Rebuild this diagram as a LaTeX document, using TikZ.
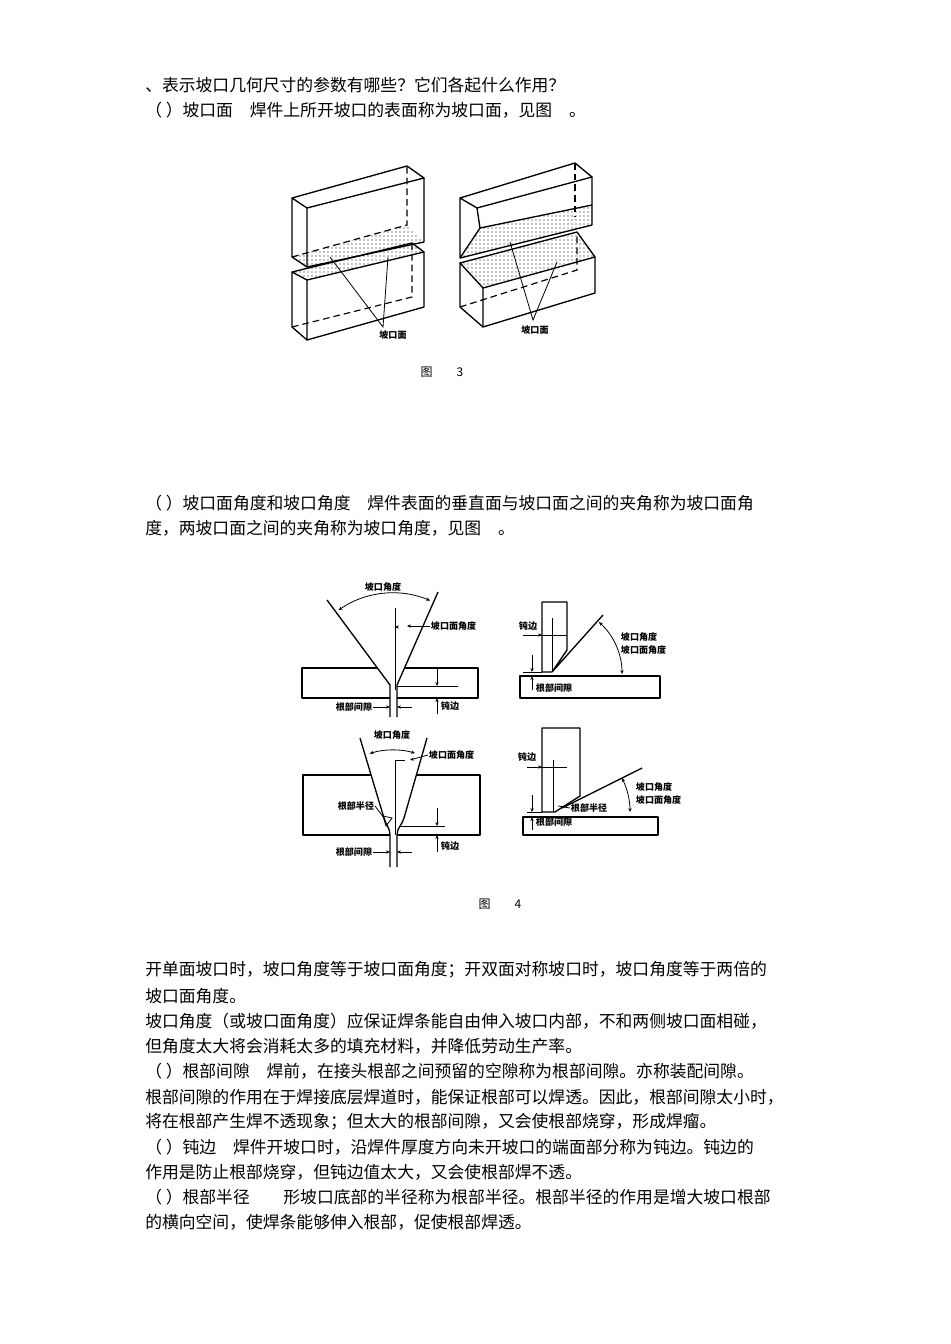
\documentclass[tikz,border=0pt]{standalone}
\usepackage{fontspec}
\setmainfont{Noto Sans CJK SC}
\newfontfamily\cjk{Noto Sans CJK SC}
\usetikzlibrary{patterns,arrows.meta}
\begin{document}
\begin{tikzpicture}[x=0.75pt,y=-0.75pt,
  body/.style={anchor=west,inner sep=0pt,font=\fontsize{12.6pt}{14pt}\selectfont},
  lbl/.style={inner sep=0.5pt,font=\fontsize{6.8pt}{7.5pt}\selectfont\bfseries},
  figcap/.style={inner sep=0pt,font=\fontsize{9pt}{10pt}\selectfont},
  ln/.style={line width=1pt,line join=round},
  thin/.style={line width=0.6pt},
  hid/.style={line width=0.9pt,dash pattern=on 5pt off 3pt},
  dots/.style={pattern=dots,pattern color=black},
  arr/.style={-{Stealth[length=3pt,width=2.5pt]},line width=0.6pt},
  darr/.style={{Stealth[length=3pt,width=2.5pt]}-{Stealth[length=3pt,width=2.5pt]},line width=0.6pt}]
\fill[white] (0,0) rectangle (950,1344);
\useasboundingbox (0,0) rectangle (950,1344);
% text
\node[body] (t1) at (145,85) {、表示坡口几何尺寸的参数有哪些？它们各起什么作用？};
\node[body] (t2) at (145,110) {（\ ）坡口面\quad 焊件上所开坡口的表面称为坡口面，见图\quad 。};
\node[body] (t3) at (145,503) {（\ ）坡口面角度和坡口角度\quad 焊件表面的垂直面与坡口面之间的夹角称为坡口面角};
\node[body] (t4) at (145,528) {度，两坡口面之间的夹角称为坡口角度，见图\quad 。};
\node[body] (t5) at (145,970) {开单面坡口时，坡口角度等于坡口面角度；开双面对称坡口时，坡口角度等于两倍的};
\node[body] (t6) at (145,996) {坡口面角度。};
\node[body] (t7) at (145,1021) {坡口角度（或坡口面角度）应保证焊条能自由伸入坡口内部，不和两侧坡口面相碰，};
\node[body] (t8) at (145,1046) {但角度太大将会消耗太多的填充材料，并降低劳动生产率。};
\node[body] (t9) at (145,1071) {（\ ）根部间隙\quad 焊前，在接头根部之间预留的空隙称为根部间隙。亦称装配间隙。};
\node[body] (t10) at (145,1097) {根部间隙的作用在于焊接底层焊道时，能保证根部可以焊透。因此，根部间隙太小时，};
\node[body] (t11) at (145,1122) {将在根部产生焊不透现象；但太大的根部间隙，又会使根部烧穿，形成焊瘤。};
\node[body] (t12) at (145,1147) {（\ ）钝边\quad 焊件开坡口时，沿焊件厚度方向未开坡口的端面部分称为钝边。钝边的};
\node[body] (t13) at (145,1172) {作用是防止根部烧穿，但钝边值太大，又会使根部焊不透。};
\node[body] (t14) at (145,1197) {（\ ）根部半径\qquad 形坡口底部的半径称为根部半径。根部半径的作用是增大坡口根部};
\node[body] (t15) at (145,1222) {的横向空间，使焊条能够伸入根部，促使根部焊透。};
% ===== Figure 3 left =====
\fill[dots] (292,257)--(307,267)--(424,242)--(407,225)--cycle;
\fill[dots] (292,272)--(307,280)--(424,252)--(412,243)--cycle;
\draw[ln] (292,198)--(307,208)--(424,178)--(407,166)--cycle;
\draw[ln] (307,208)--(307,267)--(424,242)--(424,178);
\draw[ln] (292,198)--(292,257)--(307,267);
\draw[hid] (292,257)--(407,225)--(407,166);
\draw[ln] (292,272)--(307,280)--(424,252)--(412,243)--cycle;
\draw[ln] (307,280)--(307,340)--(424,307)--(424,252);
\draw[ln] (292,272)--(292,327)--(307,340);
\draw[hid] (292,327)--(412,297)--(412,243);
\node[lbl] (l3a) at (393,335) {坡口面};
\coordinate (p3a) at (383,327);
\draw[thin] (330,257)--(p3a)--(388,257);
% ===== Figure 3 right =====
\fill[dots] (480,228)--(460,258)--(592,225)--(592,205)--cycle;
\fill[dots] (460,263)--(483,288)--(595,257)--(577,232)--cycle;
\draw[ln] (460,198)--(477,208)--(592,177)--(575,163)--cycle;
\draw[ln] (477,208)--(480,228)--(460,258)--(460,198);
\draw[ln] (480,228)--(592,205)--(592,177);
\draw[ln] (460,258)--(592,225)--(592,205);
\draw[hid] (575,163)--(575,217);
\draw[ln] (460,263)--(483,288)--(595,257)--(577,232)--cycle;
\draw[ln] (483,288)--(483,327)--(595,293)--(595,257);
\draw[ln] (460,263)--(460,307)--(483,327);
\draw[hid] (460,307)--(577,270)--(577,232);
\node[lbl] (l3b) at (535,330) {坡口面};
\coordinate (p3b) at (533,320);
\draw[thin] (510,242)--(p3b)--(557,262);
\node[figcap] (c3) at (442,372) {图\qquad 3};
% ===== Figure 4 top-left =====
\draw[ln] (377,668)--(302,668)--(302,698)--(390,698);
\draw[ln] (404,668)--(478,668)--(478,698)--(397,698);
\draw[ln] (327,600)--(390,685)--(390,717);
\draw[ln] (438,592)--(397,685)--(397,717);
\draw[thin] (395,608)--(395,690);
\coordinate (o1) at (393,688);
\draw[darr] (o1) ++(-125:95) arc[start angle=-125,end angle=-67,radius=95];
\node[lbl] (a1) at (383,587) {坡口角度};
\node[lbl,anchor=west] (b1) at (430,626) {坡口面角度};
\draw[arr] (b1.west)--(407,626);
\draw[arr] (398,627)--(395,627);
\draw[thin] (397,686)--(458,686);
\draw[arr] (437,668)--(437,686);
\draw[arr] (437,714)--(437,698);
\node[lbl,anchor=west] (d1) at (440,706) {钝边};
\node[lbl,anchor=east] (g1) at (373,707) {根部间隙};
\draw[arr] (g1.east)--(390,707);
\draw[arr] (412,707)--(397,707);
% ===== Figure 4 top-right =====
\draw[ln] (552,672)--(542,672)--(542,602)--(567,602)--(567,650)--(552,672)--(603,615);
\draw[ln] (520,676) rectangle (660,698);
\draw[thin] (523,635)--(567,635);
\draw[thin] (552,618)--(552,672);
\draw[arr] (526,635)--(542,635);
\node[lbl] (d2) at (528,626) {钝边};
\draw[thin] (523,672)--(542,672);
\draw[arr] (532,655)--(532,672);
\draw[arr] (532,690)--(532,676);
\node[lbl,anchor=west] (g2) at (535,688) {根部间隙};
\coordinate (o2) at (552,674);
\draw[darr] (o2) ++(-48:70) arc[start angle=-48,end angle=0,radius=70];
\node[lbl,anchor=west] (a2) at (620,637) {坡口角度};
\node[lbl,anchor=west] (b2) at (620,650) {坡口面角度};
% ===== Figure 4 bottom-left =====
\draw[ln] (371,775)--(303,775)--(303,835)--(390,835);
\draw[ln] (416,775)--(480,775)--(480,835)--(397,835);
\draw[ln] (360,738)--(384,818) to[out=-75,in=90] (390,835)--(390,867);
\draw[ln] (427,738)--(404,818) to[out=-105,in=90] (397,835)--(397,867);
\draw[thin] (395,760)--(395,835);
\draw[thin] (395,760)--(405,760);
\coordinate (o3) at (393,830);
\draw[darr] (o3) ++(-107:80) arc[start angle=-107,end angle=-74,radius=80];
\node[lbl] (a3) at (392,735) {坡口角度};
\node[lbl,anchor=west] (b3) at (428,755) {坡口面角度};
\draw[arr] (b3.west)--(410,760);
\draw[thin] (383,816)--(392,818)--(386,826)--cycle;
\node[lbl,anchor=east] (r3) at (375,806) {根部半径};
\draw[thin] (r3.east)--(384,818);
\draw[thin] (400,826)--(445,826);
\draw[arr] (437,808)--(437,826);
\draw[arr] (437,852)--(437,835);
\node[lbl,anchor=west] (d3) at (440,846) {钝边};
\node[lbl,anchor=east] (g3) at (373,852) {根部间隙};
\draw[arr] (g3.east)--(390,852);
\draw[arr] (412,852)--(397,852);
% ===== Figure 4 bottom-right =====
\draw[ln] (555,812)--(542,812)--(542,728)--(580,728)--(580,796)--(555,812);
\draw[ln] (562,808)--(642,768);
\draw[ln] (523,817) rectangle (658,835);
\draw[thin] (527,767)--(567,767);
\draw[thin] (553,760)--(553,812);
\draw[arr] (530,767)--(542,767);
\node[lbl] (d4) at (527,757) {钝边};
\draw[thin] (527,812)--(542,812);
\draw[arr] (532,795)--(532,812);
\draw[arr] (532,830)--(532,817);
\node[lbl,anchor=west] (g4) at (535,822) {根部间隙};
\node[lbl,anchor=west] (r4) at (570,808) {根部半径};
\draw[thin] (r4.west)--(558,806);
\coordinate (o4) at (555,812);
\draw[darr] (o4) ++(-27:75) arc[start angle=-27,end angle=0,radius=75];
\node[lbl,anchor=west] (a4) at (635,787) {坡口角度};
\node[lbl,anchor=west] (b4) at (635,800) {坡口面角度};
\node[figcap] (c4) at (500,904) {图\qquad 4};
\end{tikzpicture}
\end{document}
